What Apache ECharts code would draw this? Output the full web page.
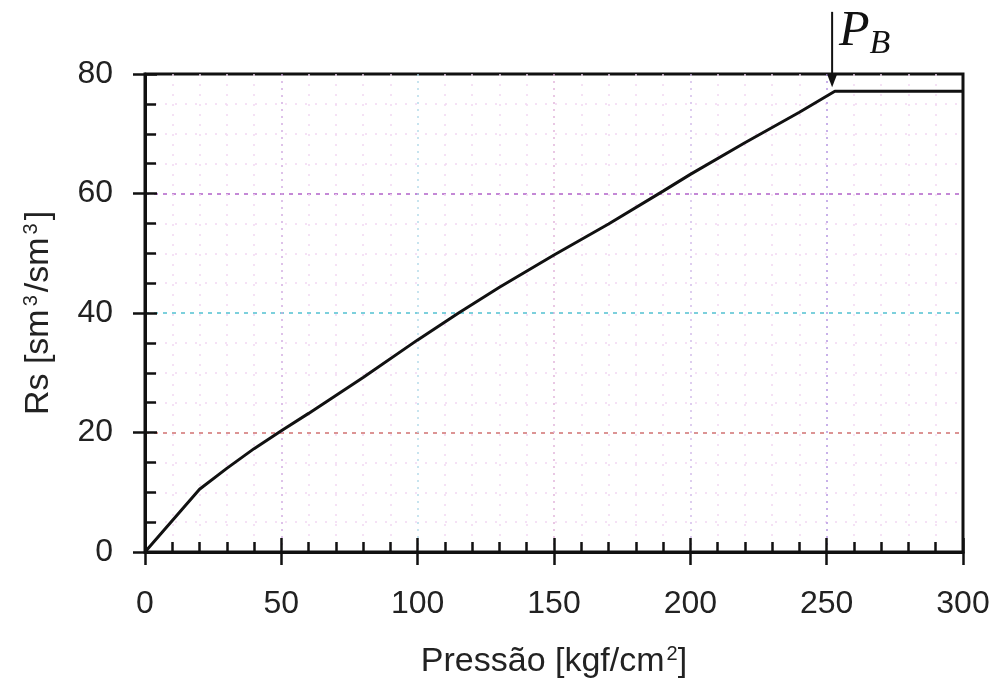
<!DOCTYPE html>
<html><head><meta charset="utf-8">
<script src="https://cdn.jsdelivr.net/npm/echarts@6/dist/echarts.min.js"></script>
<style>html,body{margin:0;padding:0;background:#fff}#c{width:997px;height:688px}</style>
</head><body><div id="c"></div><script>
// Data
const pressure = [0, 20, 30, 40, 50, 60, 70, 80, 100, 115, 130, 150, 170, 190, 200, 220, 240, 253, 300];
const rs       = [0, 10.5, 14.0, 17.3, 20.3, 23.2, 26.2, 29.2, 35.5, 40.0, 44.3, 49.7, 54.9, 60.4, 63.2, 68.5, 73.6, 77.1, 77.1];
const xTicks = [0, 50, 100, 150, 200, 250, 300];
const yTicks = [0, 20, 40, 60, 80];
const xTitle = 'Pressão [kgf/cm{sup|2}]';
const yTitle = 'Rs [sm{sup|3}/sm{sup|3}]';
// Bubble-point annotation (data units)
const pbX = 252;
const pbArrowFrom = 90.4;
const pbArrowTo = 77.8;
const pbLabelAt = [254.5, 82.2];

const FONT = '"Liberation Sans", Arial, sans-serif';
const chart = echarts.init(document.getElementById('c'), null, {renderer: 'canvas'});
const pts = pressure.map((p, i) => [p, rs[i]]);

const ySplitColors = ['rgba(0,0,0,0)', '#d07070', '#50c0d0', '#b060c8', 'rgba(0,0,0,0)'];
const xSplitColors = ['rgba(0,0,0,0)', '#d0a8e0', '#b0d8e8', '#e0b0d8', '#d0b8e8', '#b090e0', 'rgba(0,0,0,0)'];

chart.setOption({
  backgroundColor: '#fff',
  animation: false,
  grid: {left: 145, right: 34, top: 74, bottom: 136, show: true, borderColor: '#111', borderWidth: 3, backgroundColor: 'transparent'},
  xAxis: [{
    type: 'value', min: xTicks[0], max: xTicks[xTicks.length - 1], interval: 50,
    name: xTitle, nameLocation: 'middle', nameGap: 92,
    nameTextStyle: {fontFamily: FONT, fontSize: 34, color: '#222', rich: {sup: {fontFamily: FONT, fontSize: 20, color: '#222', verticalAlign: 'top', padding: [0, 0, 16, 2]}}},
    axisLine: {show: true, lineStyle: {color: '#111', width: 3}},
    axisTick: {show: true, inside: true, length: 14, lineStyle: {color: '#111', width: 2.5}},
    minorTick: {show: true, splitNumber: 5, length: 10, lineStyle: {color: '#111', width: 2.5}},
    axisLabel: {fontFamily: FONT, fontSize: 32, color: '#222', margin: 36},
    splitLine: {show: true, lineStyle: {color: xSplitColors, type: [2, 5], width: 2, opacity: 0.7}},
    minorSplitLine: {show: true, lineStyle: {color: '#f2d8f2', type: [2, 8], width: 1.5}}
  }, {
    type: 'value', min: xTicks[0], max: xTicks[xTicks.length - 1], interval: 50, position: 'bottom',
    axisLine: {show: false}, axisLabel: {show: false}, splitLine: {show: false},
    axisTick: {show: true, inside: false, length: 13, lineStyle: {color: '#111', width: 2.5}}
  }],
  yAxis: [{
    type: 'value', min: yTicks[0], max: yTicks[yTicks.length - 1], interval: 20,
    name: yTitle, nameLocation: 'middle', nameGap: 88,
    nameTextStyle: {fontFamily: FONT, fontSize: 34, color: '#222', rich: {sup: {fontFamily: FONT, fontSize: 20, color: '#222', verticalAlign: 'top', padding: [0, 3, 16, 3]}}},
    axisLine: {show: true, lineStyle: {color: '#111', width: 3}},
    axisTick: {show: true, inside: true, length: 12, lineStyle: {color: '#111', width: 2.5}},
    minorTick: {show: true, splitNumber: 4, length: 11, lineStyle: {color: '#111', width: 2.5}},
    axisLabel: {fontFamily: FONT, fontSize: 32, color: '#222', margin: 32},
    splitLine: {show: true, lineStyle: {color: ySplitColors, type: [4, 5], width: 2, opacity: 0.75}},
    minorSplitLine: {show: true, lineStyle: {color: '#f2d8f2', type: [2, 8], width: 1.5}}
  }, {
    type: 'value', min: yTicks[0], max: yTicks[yTicks.length - 1], interval: 20, position: 'left',
    axisLine: {show: false}, axisLabel: {show: false}, splitLine: {show: false},
    axisTick: {show: true, inside: false, length: 12, lineStyle: {color: '#111', width: 2.5}}
  }],
  series: [{
    type: 'line', xAxisIndex: 0, yAxisIndex: 0, data: pts, symbol: 'none', smooth: false,
    lineStyle: {color: '#111', width: 3}, z: 5
  }]
});

// Annotation: bubble-point arrow and label, positioned through the axes
const a0 = chart.convertToPixel({xAxisIndex: 0, yAxisIndex: 0}, [pbX, pbArrowFrom]);
const a1 = chart.convertToPixel({xAxisIndex: 0, yAxisIndex: 0}, [pbX, pbArrowTo]);
const lp = chart.convertToPixel({xAxisIndex: 0, yAxisIndex: 0}, pbLabelAt);
chart.setOption({
  graphic: [
    {type: 'line', shape: {x1: a0[0], y1: a0[1], x2: a1[0], y2: a1[1] - 10}, style: {stroke: '#111', lineWidth: 2}, z: 10},
    {type: 'polygon', shape: {points: [[a1[0] - 5, a1[1] - 13], [a1[0] + 5, a1[1] - 13], [a1[0], a1[1]]]}, style: {fill: '#111'}, z: 10},
    {type: 'text', x: lp[0], y: lp[1], z: 10, style: {
      text: '{p|P}{b|B}', verticalAlign: 'bottom', align: 'left',
      rich: {
        p: {fontFamily: '"Liberation Serif", "DejaVu Serif", serif', fontStyle: 'italic', fontSize: 50, fill: '#111', lineHeight: 50, padding: [0, 0, 8, 0]},
        b: {fontFamily: '"Liberation Serif", "DejaVu Serif", serif', fontStyle: 'italic', fontSize: 34, fill: '#111', verticalAlign: 'bottom', lineHeight: 34, padding: [16, 0, 0, 0]}
      }
    }}
  ]
});
</script></body></html>
